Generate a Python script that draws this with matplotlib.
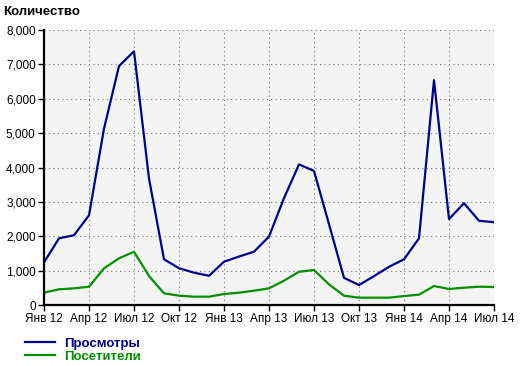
import numpy as np
import matplotlib.pyplot as plt
from matplotlib.ticker import FuncFormatter

# monthly values, Jan 2012 .. Jul 2014
views = [1240, 1940, 2030, 2610, 5130, 6950, 7380, 3680, 1330, 1070, 940, 850,
         1260, 1410, 1550, 1990, 3110, 4090, 3900, 2350, 790, 580, 840, 1110,
         1330, 1940, 6540, 2500, 2960, 2450, 2410]
visitors = [360, 456, 485, 532, 1066, 1357, 1550, 843, 339, 271, 242, 242,
            320, 358, 416, 485, 707, 968, 1017, 601, 271, 213, 213, 213,
            260, 300, 552, 465, 504, 532, 523]
tick_labels = ["Янв 12", "Апр 12", "Июл 12", "Окт 12", "Янв 13", "Апр 13",
               "Июл 13", "Окт 13", "Янв 14", "Апр 14", "Июл 14"]

plt.rcParams['font.family'] = ['Liberation Sans', 'DejaVu Sans']

blue = '#00008c'
green = '#009000'

fig = plt.figure(figsize=(5.2, 3.66), dpi=100)
ax = fig.add_axes([44/520, 1 - 305/366, 450/520, 275/366])
ax.set_facecolor('#f4f4f4')

x = np.arange(len(views))
ax.plot(x, views, color=blue, lw=1.6, label='Просмотры')
ax.plot(x, visitors, color=green, lw=1.6, label='Посетители')

ax.set_xlim(0, 30)
ax.set_ylim(0, 8000)
ax.set_xticks(np.arange(0, 31, 3))
ax.set_xticklabels(tick_labels)
ax.set_yticks(np.arange(0, 8001, 1000))
ax.yaxis.set_major_formatter(FuncFormatter(lambda v, p: f'{int(v):,}'))
ax.tick_params(labelsize=8.5, length=4, width=1, colors='black', pad=2)

ax.grid(True, color='#707070', linestyle=(0, (1, 3)), linewidth=0.8)
for s in ['top', 'right']:
    ax.spines[s].set_visible(False)
for s in ['left', 'bottom']:
    ax.spines[s].set_linewidth(1.6)

fig.text(3/520, 1 - 12/366, 'Количество', fontsize=9.5, fontweight='bold', va='center')

fig.legend(loc='upper left', bbox_to_anchor=(18/520, 1 - 331/366), frameon=False,
           prop={'size': 9.5, 'weight': 'bold'}, labelcolor='linecolor',
           handlelength=2.3, handletextpad=0.7, labelspacing=0.05, borderpad=0)

fig.savefig('out.png', dpi=100)
